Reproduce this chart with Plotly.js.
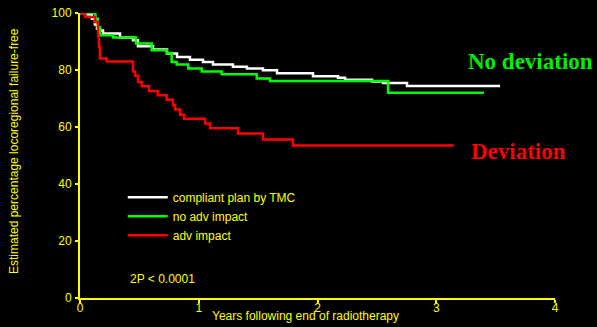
<!DOCTYPE html>
<html>
<head>
<meta charset="utf-8">
<script src="https://cdn.plot.ly/plotly-3.0.1.min.js"></script>
<style>html,body{margin:0;padding:0;background:#000;}</style>
</head>
<body>
<div id="chart" style="width:597px;height:327px;"></div>
<script>
// Kaplan-Meier style step data (years, % locoregional failure-free)
var compliantYears = [0, 0.067, 0.10, 0.126, 0.143, 0.168, 0.194, 0.337, 0.446, 0.488, 0.615, 0.733, 0.817, 0.926, 1.036, 1.12, 1.288, 1.406, 1.541, 1.659, 1.962, 2.173, 2.232, 2.459, 2.552, 2.754, 3.537];
var compliantVals  = [100, 99.5, 98, 96, 94.5, 93.9, 92.8, 91.4, 90.4, 88.3, 87.2, 85.8, 84.6, 83.6, 82.8, 81.9, 81.1, 80.5, 79.9, 78.9, 77.8, 77.3, 76.6, 76.0, 75.4, 74.4, 74.4];

var noAdvYears = [0, 0.13, 0.15, 0.168, 0.278, 0.472, 0.604, 0.73, 0.772, 0.814, 0.912, 1.025, 1.193, 1.488, 1.6, 2.594, 3.402];
var noAdvVals  = [100, 98, 95, 92.2, 91.4, 89.3, 86.9, 86.0, 82.8, 81.9, 80.5, 79.5, 78.5, 77.0, 76.1, 72.0, 72.0];

var advYears = [0, 0.042, 0.126, 0.152, 0.16, 0.168, 0.225, 0.446, 0.463, 0.488, 0.52, 0.58, 0.654, 0.73, 0.783, 0.80, 0.842, 0.876, 1.053, 1.095, 1.33, 1.54, 1.794, 3.15];
var advVals  = [100, 98.6, 96.8, 92, 88, 84, 83.0, 79.5, 78, 75.8, 74.3, 72.6, 71.1, 69.6, 67.6, 66.1, 64.3, 62.9, 61.2, 59.6, 57.7, 55.6, 53.5, 53.5];

var seriesNames = ["compliant plan by TMC", "no adv impact", "adv impact"];
var xTicks = [0, 1, 2, 3, 4];
var yTicks = [0, 20, 40, 60, 80, 100];

var yellow = "#ffff00";
var traces = [
  {x: compliantYears, y: compliantVals, name: seriesNames[0], mode: "lines", line: {shape: "hv", color: "#ffffff", width: 2.5}},
  {x: noAdvYears, y: noAdvVals, name: seriesNames[1], mode: "lines", line: {shape: "hv", color: "#00ff00", width: 2.5}},
  {x: advYears, y: advVals, name: seriesNames[2], mode: "lines", line: {shape: "hv", color: "#ff0000", width: 2.5}}
];

var axisCommon = {
  showgrid: false, zeroline: false, showline: true, linecolor: yellow, linewidth: 2,
  ticks: "outside", ticklen: 3, tickwidth: 2, tickcolor: yellow,
  tickfont: {family: "Liberation Sans, Arial, sans-serif", size: 12, color: yellow},
  fixedrange: true
};

var layout = {
  width: 597, height: 327,
  margin: {l: 80, r: 42, t: 13, b: 29},
  paper_bgcolor: "#000", plot_bgcolor: "#000",
  font: {family: "Liberation Sans, Arial, sans-serif", size: 12, color: yellow},
  xaxis: Object.assign({}, axisCommon, {range: [0, 4], tickvals: xTicks, ticklabelstandoff: -5}),
  yaxis: Object.assign({}, axisCommon, {range: [0, 100], tickvals: yTicks, ticklabelstandoff: 1}),
  showlegend: true,
  legend: {x: 0.09, y: 0.404, xanchor: "left", yanchor: "top", bgcolor: "rgba(0,0,0,0)",
           font: {size: 12, color: yellow}, tracegroupgap: 0, itemwidth: 40},
  annotations: [
    {xref: "paper", yref: "paper", x: (305 - 80) / 475, y: (298 - 316) / 285, xanchor: "center", yanchor: "middle",
     text: "Years following end of radiotherapy", showarrow: false, font: {size: 12, color: yellow}},
    {xref: "paper", yref: "paper", x: (14 - 80) / 475, y: (298 - 151) / 285, xanchor: "center", yanchor: "middle",
     textangle: -90, text: "Estimated percentage locoregional failure-free", showarrow: false, font: {size: 12, color: yellow}},
    {xref: "paper", yref: "paper", x: (128 - 80) / 475, y: (298 - 279) / 285, xanchor: "left", yanchor: "middle",
     text: "2P &lt; 0.0001", showarrow: false, font: {size: 12, color: yellow}},
    {xref: "paper", yref: "paper", x: (530 - 80) / 475, y: (298 - 62) / 285, xanchor: "center", yanchor: "middle",
     text: "<b>No deviation</b>", showarrow: false, font: {family: "Liberation Serif, Times New Roman, serif", size: 23, color: "#00ee00"}},
    {xref: "paper", yref: "paper", x: (518 - 80) / 475, y: (298 - 151) / 285, xanchor: "center", yanchor: "middle",
     text: "<b>Deviation</b>", showarrow: false, font: {family: "Liberation Serif, Times New Roman, serif", size: 23, color: "#ff0000"}}
  ]
};

Plotly.newPlot("chart", traces, layout, {displayModeBar: false, staticPlot: true});
</script>
</body>
</html>
